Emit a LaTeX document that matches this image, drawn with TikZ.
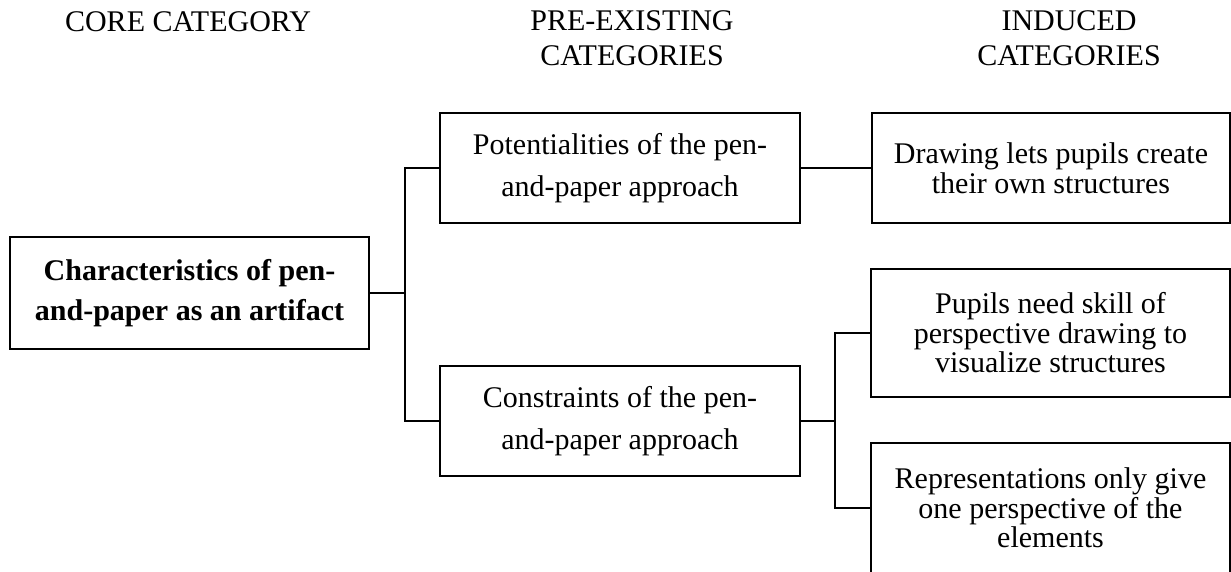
\documentclass[tikz,border=0pt]{standalone}
\usepackage{fontspec}
\setmainfont{Liberation Serif}
\begin{document}
\begin{tikzpicture}[x=1pt,y=-1pt,
  box/.style={draw,line width=2.8pt,inner sep=0pt,align=center},
  prebox/.style={box,font=\fontsize{30}{42.5}\selectfont},
  indbox/.style={box,font=\fontsize{30}{29.5}\selectfont},
  wire/.style={line width=2.4pt},
  head/.style={align=center,inner sep=0pt,anchor=base,font=\fontsize{30}{34.5}\selectfont},
]
\clip (0,0) rectangle (1231,571);

% column headings (anchored at the baseline of the last line)
\node[head] (h1) at (188,31) {CORE CATEGORY};
\node[head] (h2) at (632,65) {PRE-EXISTING\\CATEGORIES};
\node[head] (h3) at (1069,65) {INDUCED\\CATEGORIES};

% core category
\node[box, minimum width=359pt, minimum height=112pt,
      font=\bfseries\fontsize{30}{40}\selectfont] (core) at (189.5,293)
  {Characteristics of pen-\\and-paper as an artifact};

% pre-existing categories
\node[prebox, minimum width=360pt, minimum height=110pt] (pot) at (620,168)
  {Potentialities of the pen-\\and-paper approach};
\node[prebox, minimum width=360pt, minimum height=110pt] (con) at (620,421)
  {Constraints of the pen-\\and-paper approach};

% induced categories
\node[indbox, minimum width=358pt, minimum height=110pt] (drw) at (1051,168)
  {Drawing lets pupils create\\their own structures};
\node[indbox, minimum width=359pt, minimum height=128pt] (pup) at (1050.5,333)
  {Pupils need skill of\\perspective drawing to\\visualize structures};
\node[indbox, minimum width=359pt, minimum height=130pt] (rep) at (1050.5,508)
  {Representations only give\\one perspective of the\\elements};

% connectors
\coordinate (j1) at (405,293);
\coordinate (j2) at (835,421);
\draw[wire] (core.east) -- (j1);
\draw[wire] (pot.west) -| (j1) |- (con.west);
\draw[wire] (pot.east) -- (drw.west);
\draw[wire] (con.east) -- (j2);
\draw[wire] (pup.west) -| (j2) |- (rep.west);
\end{tikzpicture}
\end{document}
